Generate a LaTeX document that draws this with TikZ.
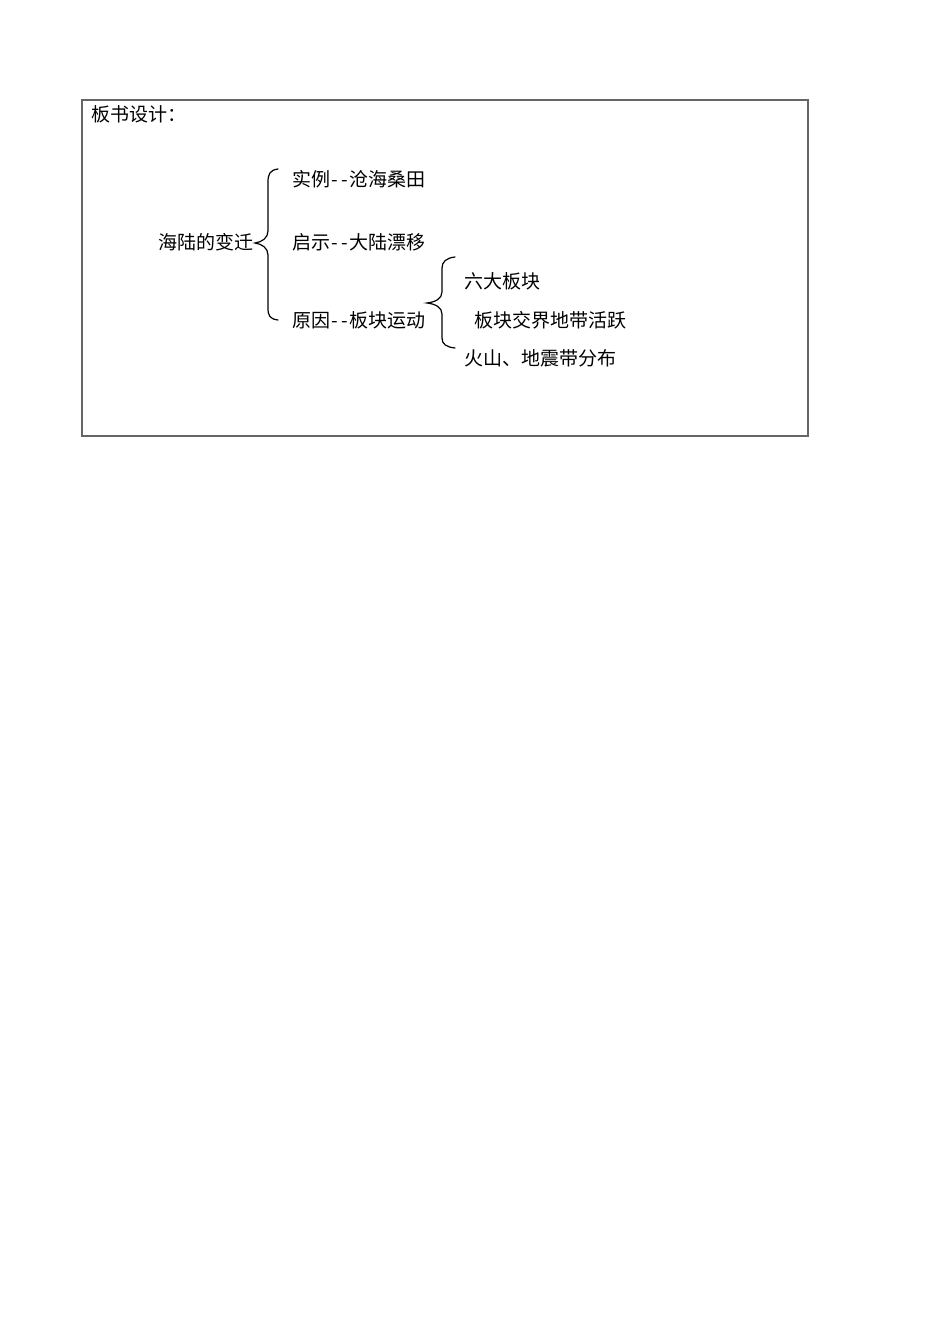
\documentclass[tikz,border=0pt]{standalone}
\usepackage{fontspec}
\newfontfamily\cjk{Noto Sans CJK SC}
\newcommand{\halfdash}{\makebox[0.5em]{-}}
\newcommand{\dd}{\halfdash\halfdash}
\begin{document}
\begin{tikzpicture}[x=1pt,y=-1pt,
  txt/.style={anchor=west,inner sep=0pt,font=\cjk\fontsize{19}{21}\selectfont},
  brace/.style={draw=black,line width=1.2pt,line cap=round}]
\useasboundingbox (0,0) rectangle (950,1344);
\draw[gray!80!black,line width=1.3pt] (82,100) rectangle (808,436);
\node[txt] (title) at (91,114) {板书设计：};
\node[txt] (root) at (158,242) {海陆的变迁};
\node[txt] (a) at (292,179) {实例\dd 沧海桑田};
\node[txt] (b) at (292,242) {启示\dd 大陆漂移};
\node[txt] (c) at (292,320) {原因\dd 板块运动};
\node[txt] (c1) at (464,281) {六大板块};
\node[txt] (c2) at (474,320) {板块交界地带活跃};
\node[txt] (c3) at (464,358) {火山、地震带分布};
% big brace
\coordinate (b1t) at (278,169);
\coordinate (b1m) at (255,243);
\coordinate (b1b) at (278,320);
\draw[brace] (b1t) .. controls (270,170) and (268,174) .. (268,182)
  -- (268,231) .. controls (268,238) and (262,242) .. (b1m)
  .. controls (262,244) and (268,248) .. (268,255)
  -- (268,308) .. controls (268,316) and (270,319) .. (b1b);
% small brace
\coordinate (b2t) at (455,257);
\coordinate (b2m) at (427,303);
\coordinate (b2b) at (455,348);
\draw[brace] (b2t) .. controls (446,258) and (442,262) .. (442,268)
  -- (442,292) .. controls (442,299) and (435,302) .. (b2m)
  .. controls (435,304) and (442,307) .. (442,314)
  -- (442,338) .. controls (442,344) and (446,347) .. (b2b);
\end{tikzpicture}
\end{document}
